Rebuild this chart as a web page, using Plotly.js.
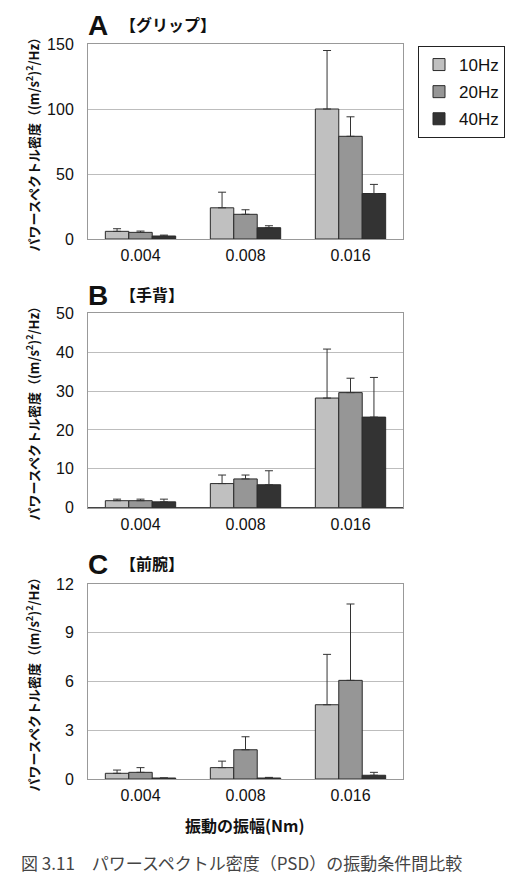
<!DOCTYPE html>
<html>
<head>
<meta charset="utf-8">
<script src="https://cdn.plot.ly/plotly-3.0.1.min.js"></script>
<style>
  html, body { margin: 0; padding: 0; background: #fff; }
  #chart { width: 514px; height: 876px; }
</style>
</head>
<body>
<div id="chart"></div>
<script>
// Vibration amplitude categories (Nm)
const amplitudes = ['0.004', '0.008', '0.016'];
const freqNames = ['10Hz', '20Hz', '40Hz'];

// Panel A: grip — mean PSD and SD per frequency
const gripMean10 = [5.9, 24, 100];
const gripMean20 = [5.1, 19, 79];
const gripMean40 = [2.3, 8.7, 35];
const gripSd10 = [2.0, 12, 45];
const gripSd20 = [1.0, 3.5, 15];
const gripSd40 = [0.7, 1.5, 7];

// Panel B: back of hand
const handMean10 = [1.8, 6.2, 28.2];
const handMean20 = [1.8, 7.4, 29.6];
const handMean40 = [1.5, 5.9, 23.3];
const handSd10 = [0.4, 2.2, 12.6];
const handSd20 = [0.4, 1.0, 3.7];
const handSd40 = [0.7, 3.6, 10.2];

// Panel C: forearm
const armMean10 = [0.35, 0.7, 4.57];
const armMean20 = [0.41, 1.8, 6.07];
const armMean40 = [0.06, 0.06, 0.23];
const armSd10 = [0.2, 0.4, 3.1];
const armSd20 = [0.29, 0.8, 4.7];
const armSd40 = [0.0, 0.04, 0.18];

const fillColors = ['#c0c0c0', '#969696', '#333333'];
const W = 514, H = 876;

function bars(means, sds, idx, xa, ya, showLegend) {
  return {
    type: 'bar',
    x: amplitudes,
    y: means,
    name: freqNames[idx],
    xaxis: xa, yaxis: ya,
    showlegend: showLegend,
    legendgroup: freqNames[idx],
    marker: { color: fillColors[idx], line: { color: '#2a2a2a', width: 1 } },
    error_y: {
      type: 'data', symmetric: false,
      array: sds, arrayminus: sds.map(() => 0),
      color: '#333', thickness: 1, width: 4
    },
    hoverinfo: 'skip'
  };
}

const data = [
  bars(gripMean10, gripSd10, 0, 'x', 'y', true),
  bars(gripMean20, gripSd20, 1, 'x', 'y', true),
  bars(gripMean40, gripSd40, 2, 'x', 'y', true),
  bars(handMean10, handSd10, 0, 'x2', 'y2', false),
  bars(handMean20, handSd20, 1, 'x2', 'y2', false),
  bars(handMean40, handSd40, 2, 'x2', 'y2', false),
  bars(armMean10, armSd10, 0, 'x3', 'y3', false),
  bars(armMean20, armSd20, 1, 'x3', 'y3', false),
  bars(armMean40, armSd40, 2, 'x3', 'y3', false)
];

const sansFont = 'Liberation Sans';
const tickFont = { family: sansFont, size: 16, color: '#111' };
const xDomain = [88 / W, 403 / W];
function yDom(top, bottom) { return [1 - bottom / H, 1 - top / H]; }

function xAxis(anchor) {
  return {
    domain: xDomain, anchor: anchor, type: 'category',
    range: [-0.5, 2.5], showgrid: false, zeroline: false,
    showline: true, mirror: true, linecolor: '#999', linewidth: 1,
    ticks: '', tickfont: tickFont, ticklabelstandoff: 2, fixedrange: true
  };
}
function yAxis(anchor, dom, maxV, step) {
  return {
    domain: dom, anchor: anchor, range: [0, maxV], dtick: step, tick0: 0,
    showgrid: true, gridcolor: '#bdbdbd', gridwidth: 1,
    zeroline: true, zerolinecolor: '#444', zerolinewidth: 1,
    showline: true, mirror: true, linecolor: '#999', linewidth: 1,
    ticks: '', tickfont: tickFont, ticklabelstandoff: 10, fixedrange: true
  };
}

const domA = yDom(44, 239), domB = yDom(313.3, 507.7), domC = yDom(584, 779);
const yTitle = 'パワースペクトル密度（(m/s<sup>2</sup>)<sup>2</sup>/Hz）';
const yTitleFont = { family: 'Noto Sans CJK JP', size: 13, color: '#111', weight: 'bold' };

function panelLabel(letter, name, topPx) {
  return [
    { xref: 'paper', yref: 'paper', x: 86 / W, y: 1 - topPx / H, xanchor: 'left', yanchor: 'middle',
      text: letter, showarrow: false,
      font: { family: sansFont, size: 28, color: '#111', weight: 'bold' } },
    { xref: 'paper', yref: 'paper', x: 118 / W, y: 1 - (topPx - 1) / H, xanchor: 'left', yanchor: 'middle',
      text: '【' + name + '】', showarrow: false,
      font: { family: 'Noto Sans CJK JP', size: 16, color: '#111', weight: 'bold' } }
  ];
}
function yTitleAnn(dom) {
  return { xref: 'paper', yref: 'paper', x: 32 / W, y: (dom[0] + dom[1]) / 2,
    xanchor: 'center', yanchor: 'middle', textangle: -90, text: yTitle,
    showarrow: false, font: yTitleFont };
}

const annotations = [].concat(
  panelLabel('A', 'グリップ', 25),
  panelLabel('B', '手背', 295),
  panelLabel('C', '前腕', 564),
  [yTitleAnn(domA), yTitleAnn(domB), yTitleAnn(domC),
   { xref: 'paper', yref: 'paper', x: 245 / W, y: 1 - 825 / H, xanchor: 'center', yanchor: 'middle',
     text: '振動の振幅(Nm)', showarrow: false,
     font: { family: 'Noto Sans CJK JP', size: 16, color: '#111', weight: 'bold' } },
   { xref: 'paper', yref: 'paper', x: 19 / W, y: 1 - 862 / H, xanchor: 'left', yanchor: 'middle',
     text: '図 3.11　パワースペクトル密度（PSD）の振動条件間比較', showarrow: false,
     font: { family: 'Noto Sans CJK JP', size: 17, color: '#444' } }]
);

const layout = {
  width: W, height: H,
  margin: { l: 0, r: 0, t: 0, b: 0 },
  paper_bgcolor: '#fff', plot_bgcolor: '#fff',
  barmode: 'group', bargap: 0.33, bargroupgap: 0,
  xaxis: xAxis('y'), yaxis: yAxis('x', domA, 150, 50),
  xaxis2: xAxis('y2'), yaxis2: yAxis('x2', domB, 50, 10),
  xaxis3: xAxis('y3'), yaxis3: yAxis('x3', domC, 12, 3),
  legend: {
    x: 418 / W, y: 1 - 46 / H, xanchor: 'left', yanchor: 'top',
    bordercolor: '#222', borderwidth: 1, bgcolor: '#fff',
    font: { family: sansFont, size: 17, color: '#111' },
    itemwidth: 30, tracegroupgap: 2
  },
  annotations: annotations
};

Plotly.newPlot('chart', data, layout, { displayModeBar: false, staticPlot: true });
</script>
</body>
</html>
